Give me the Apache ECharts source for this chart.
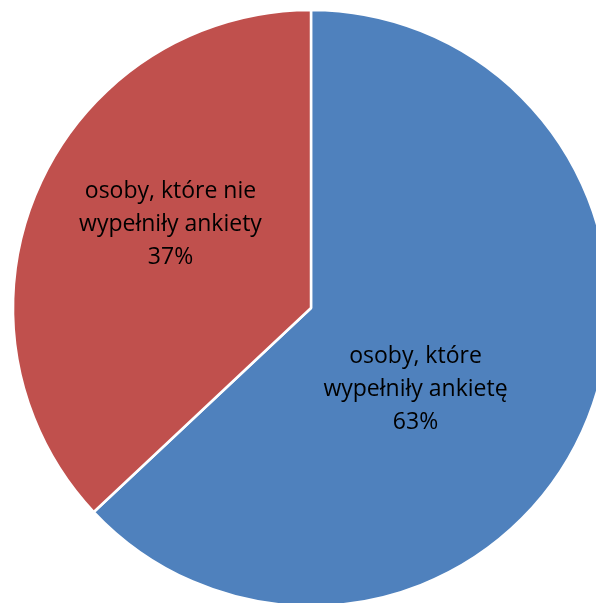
<!DOCTYPE html>
<html>
<head>
<meta charset="utf-8">
<script src="https://cdn.jsdelivr.net/npm/echarts@6/dist/echarts.min.js"></script>
<style>html,body{margin:0;padding:0;background:#fff}#c{width:596px;height:603px}</style>
</head>
<body>
<div id="c"></div>
<script>
var categories = ['osoby, które\nwypełniły ankietę', 'osoby, które nie\nwypełniły ankiety'];
var values = [63, 37];
var colors = ['#4F81BD', '#C0504D'];
var labelShift = [[-35, 21], [-1, -23]];

var chart = echarts.init(document.getElementById('c'));
chart.setOption({
  animation: false,
  series: [{
    type: 'pie',
    center: [311, 308],
    radius: 298,
    startAngle: 90,
    clockwise: true,
    data: categories.map(function (c, i) {
      return { name: c, value: values[i], itemStyle: { color: colors[i] } };
    }),
    itemStyle: { borderColor: '#fff', borderWidth: 2.5 },
    label: {
      show: true,
      position: 'inside',
      formatter: '{b}\n{d}%',
      color: '#000',
      fontFamily: 'Open Sans',
      fontSize: 23,
      lineHeight: 33,
      align: 'center'
    },
    labelLine: { show: false },
    emphasis: { disabled: true },
    labelLayout: function (p) {
      return { dx: labelShift[p.dataIndex][0], dy: labelShift[p.dataIndex][1] };
    }
  }]
});
</script>
</body>
</html>
